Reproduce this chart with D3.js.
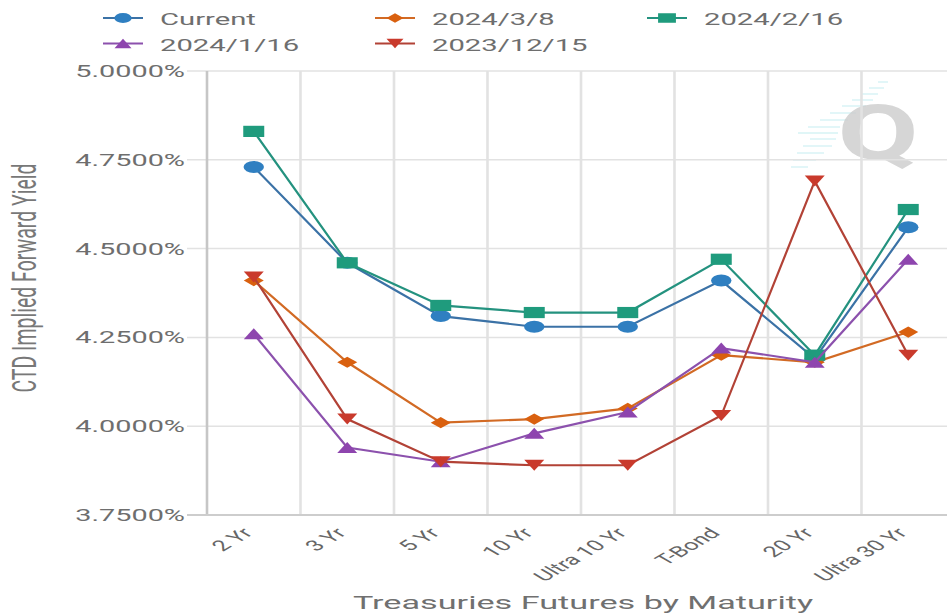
<!DOCTYPE html>
<html>
<head>
<meta charset="utf-8">
<script src="https://cdn.jsdelivr.net/npm/d3@7"></script>
<style>
  html, body { margin: 0; padding: 0; background: #ffffff; }
  svg { display: block; }
  text { font-family: Roboto, "Noto Sans", Arial, sans-serif; }
</style>
</head>
<body>
<svg id="chart" width="947" height="614"></svg>
<script>
// Maturity buckets on the x axis
const categories = ["2 Yr", "3 Yr", "5 Yr", "10 Yr", "Ultra 10 Yr", "T-Bond", "20 Yr", "Ultra 30 Yr"];

// CTD implied forward yields (%) per snapshot date
const current    = [4.73, 4.46, 4.31, 4.28, 4.28, 4.41, 4.19, 4.56];
const mar8       = [4.41, 4.18, 4.01, 4.02, 4.05, 4.20, 4.18, 4.265];
const feb16      = [4.83, 4.46, 4.34, 4.32, 4.32, 4.47, 4.20, 4.61];
const jan16      = [4.26, 3.94, 3.90, 3.98, 4.04, 4.22, 4.18, 4.47];
const dec15      = [4.42, 4.02, 3.90, 3.89, 3.89, 4.03, 4.69, 4.20];

const seriesNames = ["Current", "2024/3/8", "2024/2/16", "2024/1/16", "2023/12/15"];
const yTicks = [3.75, 4.00, 4.25, 4.50, 4.75, 5.00];

const seriesStyle = [
  { fill: "#2f7fc1", stroke: "#3b72a6", shape: "circle" },
  { fill: "#d9600f", stroke: "#d26a24", shape: "diamond" },
  { fill: "#1f9b7d", stroke: "#24927f", shape: "square" },
  { fill: "#8e45ae", stroke: "#8c51ad", shape: "triangleUp" },
  { fill: "#c93a2c", stroke: "#b24236", shape: "triangleDown" }
];
const seriesValues = [current, mar8, feb16, jan16, dec15];

const STRETCH = 1.72;   // wide text rendering used throughout the chart
const svg = d3.select("#chart");

const plot = { left: 207, right: 955, top: 71, bottom: 515 };

const x = d3.scaleBand().domain(categories).range([plot.left, plot.right]).padding(0);
const y = d3.scaleLinear().domain([3.75, 5.0]).range([plot.bottom, plot.top]);

// ---- watermark logo (drawn beneath the grid) ----
const wm = svg.append("g").attr("class", "watermark");
const streaks = [
  [878, 888, 82], [869, 884, 88], [862, 878, 94], [852, 873, 100], [842, 866, 106],
  [830, 856, 113], [820, 848, 120], [808, 840, 127], [798, 838, 133], [810, 836, 139],
  [803, 832, 146], [797, 824, 153], [793, 816, 160], [791, 808, 167]
];
wm.selectAll("line").data(streaks).join("line")
  .attr("x1", d => d[0]).attr("x2", d => d[1])
  .attr("y1", d => d[2]).attr("y2", d => d[2])
  .attr("stroke", "#c9f0f2").attr("stroke-width", 1.4).attr("opacity", 0.75);
wm.append("text")
  .attr("transform", "translate(878,159) scale(1.55,1)")
  .attr("text-anchor", "middle")
  .attr("font-size", 76).attr("font-weight", 700)
  .attr("fill", "#cfcfcf").attr("opacity", 0.85)
  .text("Q");

// ---- grid ----
const grid = svg.append("g").attr("class", "grid");
grid.selectAll("line.h").data(yTicks).join("line").attr("class", "h")
  .attr("x1", 187).attr("x2", 947)
  .attr("y1", d => y(d)).attr("y2", d => y(d))
  .attr("stroke", "#e2e2e2").attr("stroke-width", 1.5);
const bounds = categories.slice(1).map(c => x(c));
grid.selectAll("line.v").data(bounds).join("line").attr("class", "v")
  .attr("x1", d => d).attr("x2", d => d)
  .attr("y1", plot.top).attr("y2", plot.bottom)
  .attr("stroke", "#e2e2e2").attr("stroke-width", 2.6);

// axis lines
svg.append("line").attr("x1", plot.left).attr("x2", plot.left)
  .attr("y1", plot.top).attr("y2", plot.bottom)
  .attr("stroke", "#c6c6c6").attr("stroke-width", 2.6);
svg.append("line").attr("x1", 187).attr("x2", 947)
  .attr("y1", plot.bottom).attr("y2", plot.bottom)
  .attr("stroke", "#cdcdcd").attr("stroke-width", 2);

// ---- y axis labels ----
const fmt = d3.format(".4f");
svg.append("g").selectAll("text").data(yTicks).join("text")
  .attr("transform", d => `translate(185,${y(d)}) scale(1.75,1)`)
  .attr("dy", "0.36em")
  .attr("text-anchor", "end")
  .attr("font-size", 16.5)
  .attr("fill", "#6e6e6e")
  .text(d => fmt(d) + "%");

// y axis title
svg.append("text")
  .attr("transform", "translate(36,278) scale(1.75,1) rotate(-90)")
  .attr("text-anchor", "middle")
  .attr("font-size", 19.5)
  .attr("fill", "#787878")
  .text("CTD Implied Forward Yield");

// ---- x axis labels ----
svg.append("g").selectAll("text").data(categories).join("text")
  .attr("transform", d => `translate(${x(d) + x.bandwidth() / 2},534) scale(${STRETCH},1) rotate(-45)`)
  .attr("text-anchor", "end")
  .attr("font-size", 14.8)
  .attr("fill", "#666666")
  .text(d => d);

// x axis title
svg.append("text")
  .attr("transform", "translate(583,609) scale(1.8,1)")
  .attr("text-anchor", "middle")
  .attr("font-size", 19)
  .attr("fill", "#707070")
  .text("Treasuries Futures by Maturity");

// ---- marker shapes ----
function markerPath(shape, k) {
  const s = k || 1;
  switch (shape) {
    case "diamond": {
      const w = 10 * s, h = 5.6 * s;
      return `M${-w},0L0,${-h}L${w},0L0,${h}Z`;
    }
    case "square": {
      const w = 10.5 * s, h = 5.6 * s;
      return `M${-w},${-h}H${w}V${h}H${-w}Z`;
    }
    case "triangleUp": {
      const w = 10 * s, h = 11 * s;
      return `M${-w},${h / 2}L0,${-h / 2}L${w},${h / 2}Z`;
    }
    case "triangleDown": {
      const w = 10 * s, h = 11 * s;
      return `M${-w},${-h / 2}L0,${h / 2}L${w},${-h / 2}Z`;
    }
    default: {
      const rx = 10.2 * s, ry = 6 * s;
      return `M${-rx},0A${rx},${ry} 0 1,0 ${rx},0A${rx},${ry} 0 1,0 ${-rx},0Z`;
    }
  }
}

// ---- series ----
const line = d3.line()
  .x((d, i) => x(categories[i]) + x.bandwidth() / 2)
  .y(d => y(d));

seriesValues.forEach((vals, si) => {
  const st = seriesStyle[si];
  const g = svg.append("g").attr("class", "series");
  g.append("path").datum(vals)
    .attr("d", line)
    .attr("fill", "none")
    .attr("stroke", st.stroke)
    .attr("stroke-width", 2.2);
  g.selectAll("path.m").data(vals).join("path").attr("class", "m")
    .attr("transform", (d, i) => `translate(${x(categories[i]) + x.bandwidth() / 2},${y(d)})`)
    .attr("d", markerPath(st.shape))
    .attr("fill", st.fill);
});

// ---- legend ----
const legend = svg.append("g").attr("class", "legend");
const colW = 272, rowH = 25.5;
seriesNames.forEach((name, i) => {
  const col = i % 3, row = Math.floor(i / 3);
  const st = seriesStyle[i];
  const gx = 103 + col * colW, gy = 18 + row * rowH;
  const item = legend.append("g").attr("transform", `translate(${gx},${gy})`);
  item.append("line").attr("x1", 0).attr("x2", 40).attr("y1", 0).attr("y2", 0)
    .attr("stroke", st.stroke).attr("stroke-width", 2.2);
  item.append("path").attr("transform", "translate(20,0)")
    .attr("d", markerPath(st.shape, 0.85)).attr("fill", st.fill);
  item.append("text")
    .attr("transform", `translate(57,7) scale(${STRETCH},1)`)
    .attr("font-size", 17)
    .attr("fill", "#6e6e6e")
    .text(name);
});
</script>
</body>
</html>
